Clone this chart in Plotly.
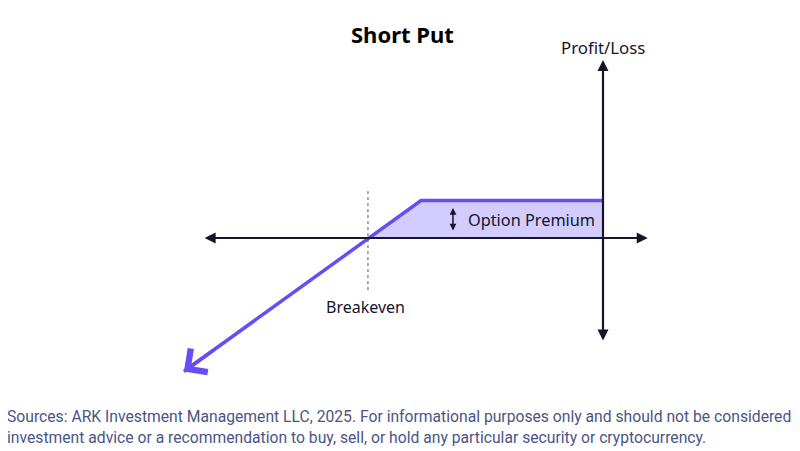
import plotly.graph_objects as go

# ---- conceptual data (payoff diagram of a short put) ----
strike = 100.0
premium = 10.0
breakeven = strike - premium
price_points = [54.4, strike, 135.0]          # left end of payoff, strike (kink), P/L axis position
haxis_range = [58.1, 143.6]                    # extent of horizontal price axis
vaxis_range = [-27.7, 47.5]                    # extent of vertical P/L axis
breakeven_line = [-13.9, 12.8]
premium_arrow = [1.6, 8.0]
premium_arrow_x = 106.15

title_text = "Short Put"
ylabel_text = "Profit/Loss"
breakeven_text = "Breakeven"
premium_text = "Option Premium"
footer_lines = [
    "Sources: ARK Investment Management LLC, 2025. For informational purposes only and should not be considered",
    "investment advice or a recommendation to buy, sell, or hold any particular security or cryptocurrency.",
]

def payoff(p):
    return min(p - strike, 0.0) + premium

PURPLE = "#6a4cf5"
FILL = "rgba(196,188,255,0.75)"
INK = "#14142b"

vx = price_points[-1]
pay = [payoff(p) for p in price_points]

# coordinate frame (px per unit); page body adds an 8px offset
OFF = 8
W, H = 800, 451
sx, sy = 5.2, 3.75
x0 = strike - (421 - OFF) / sx
y_top = (238 - OFF) / sy

def px(xp):
    return (xp - OFF) / W

def py(yp):
    return 1 - (yp - OFF) / H

fig = go.Figure()

fx = [breakeven, strike, vx, vx, breakeven]
fy = [0, payoff(strike), payoff(vx), 0, 0]
fig.add_trace(go.Scatter(x=fx, y=fy, fill="toself", fillcolor=FILL, mode="none",
                         hoverinfo="skip", showlegend=False))

fig.add_trace(go.Scatter(x=price_points, y=pay, mode="lines",
                         line=dict(color=PURPLE, width=3.5), hoverinfo="skip", showlegend=False))

fig.add_trace(go.Scatter(x=[breakeven - 0.2, breakeven - 0.2], y=breakeven_line, mode="lines",
                         line=dict(color="#555555", width=1, dash="dot"),
                         hoverinfo="skip", showlegend=False))

anns = []
anns.append(dict(x=haxis_range[1], y=0, ax=haxis_range[0], ay=0, xref="x", yref="y",
                 axref="x", ayref="y", showarrow=True, arrowhead=2, arrowside="end+start",
                 arrowsize=1.0, arrowwidth=2.2, arrowcolor=INK, standoff=0, startstandoff=0, text=""))
anns.append(dict(x=vx, y=vaxis_range[1], ax=vx, ay=vaxis_range[0], xref="x", yref="y",
                 axref="x", ayref="y", showarrow=True, arrowhead=2, arrowside="end+start",
                 arrowsize=1.0, arrowwidth=2.2, arrowcolor=INK, standoff=0, startstandoff=0, text=""))
tail = price_points[0] + 6
anns.append(dict(x=price_points[0], y=pay[0], ax=tail, ay=payoff(tail), xref="x", yref="y",
                 axref="x", ayref="y", showarrow=True, arrowhead=4, arrowsize=1.6,
                 arrowwidth=3.5, arrowcolor=PURPLE, standoff=0, text=""))
anns.append(dict(x=premium_arrow_x, y=premium_arrow[1], ax=premium_arrow_x, ay=premium_arrow[0],
                 xref="x", yref="y", axref="x", ayref="y", showarrow=True, arrowhead=2,
                 arrowside="end+start", arrowsize=0.9, arrowwidth=1.5, arrowcolor=INK,
                 standoff=0, startstandoff=0, text=""))
anns.append(dict(x=108.65, y=4.8, text=premium_text, showarrow=False,
                 xanchor="left", yanchor="middle", font=dict(size=16.3, color=INK, family="Noto Sans")))
anns.append(dict(x=89.4, y=-18.4, text=breakeven_text, showarrow=False,
                 xanchor="center", yanchor="middle", font=dict(size=16, color=INK, family="Noto Sans")))
anns.append(dict(x=vx, y=50.9, text=ylabel_text, showarrow=False,
                 xanchor="center", yanchor="middle", font=dict(size=16.8, color=INK, family="Noto Sans")))
anns.append(dict(x=px(402), y=py(34), xref="paper", yref="paper", text="<b>" + title_text + "</b>",
                 showarrow=False, xanchor="center", yanchor="middle",
                 font=dict(size=22, color="#000000", family="Noto Sans")))
for i, line in enumerate(footer_lines):
    anns.append(dict(x=px(5), y=py(416 + 21 * i), xref="paper", yref="paper", text=line,
                     showarrow=False, xanchor="left", yanchor="middle",
                     font=dict(size=15.7, color="#4a5586", family="Roboto")))

fig.update_layout(
    width=W, height=H,
    margin=dict(l=0, r=0, t=0, b=0),
    paper_bgcolor="white", plot_bgcolor="white",
    xaxis=dict(range=[x0, x0 + W / sx], visible=False, fixedrange=True),
    yaxis=dict(range=[y_top - H / sy, y_top], visible=False, fixedrange=True),
    annotations=anns,
    showlegend=False,
)

fig.write_html("out.html")
